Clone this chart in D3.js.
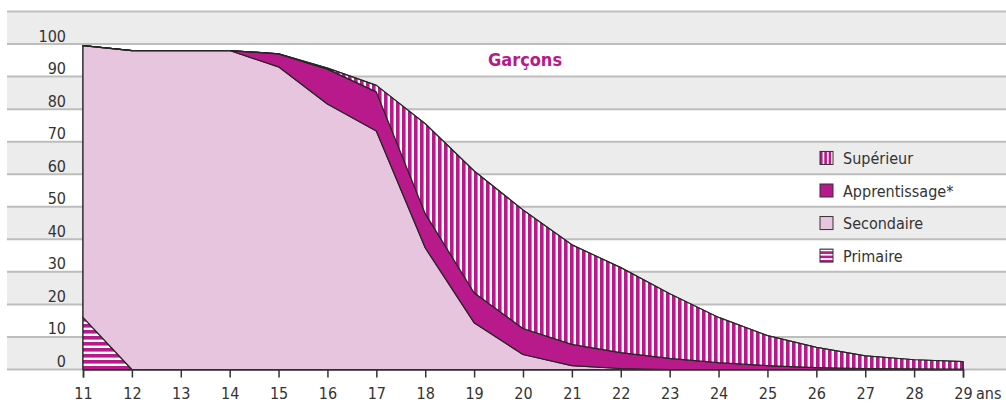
<!DOCTYPE html>
<html>
<head>
    <meta charset="utf-8">
    <title>Garçons</title>
    <script src="https://cdn.jsdelivr.net/npm/d3@7"></script>
    <style>
        body { margin: 0; background: #fff; }
        text { font-family: "Liberation Sans Narrow", "DejaVu Sans Condensed", "Arial Narrow", sans-serif; }
    </style>
</head>
<body>
    <script>
        // données (en %)
        const ages = [11, 12, 13, 14, 15, 16, 17, 18, 19, 20, 21, 22, 23, 24, 25, 26, 27, 28, 29];
        const primaire = [16, 0, 0, 0, 0, 0, 0, 0, 0, 0, 0, 0, 0, 0, 0, 0, 0, 0, 0];
        const secondaire = [83.5, 98, 98, 98, 93, 81.6, 73.3, 37.4, 14.4, 4.6, 1.2, 0.3, 0, 0, 0, 0, 0, 0, 0];
        const apprentissage = [0, 0, 0, 0, 4, 10.7, 12, 10.5, 9.2, 8, 6.5, 4.9, 3.4, 2.1, 1.2, 0.6, 0.3, 0.2, 0.1];
        const superieur = [0, 0, 0, 0, 0, 0.3, 2, 27.6, 37.4, 36.4, 30.6, 26.1, 19.9, 13.9, 9.2, 6.2, 3.9, 2.8, 2.3];
        const yTicks = [0, 10, 20, 30, 40, 50, 60, 70, 80, 90, 100];
        const legendItems = [
            { key: "superieur", label: "Supérieur" },
            { key: "apprentissage", label: "Apprentissage*" },
            { key: "secondaire", label: "Secondaire" },
            { key: "primaire", label: "Primaire" }
        ];

        const width = 1006, height = 404;
        const magenta = "#b8198b", rose = "#e7c5de";

        const rows = ages.map((a, i) => ({
            age: a,
            primaire: primaire[i],
            secondaire: secondaire[i],
            apprentissage: apprentissage[i],
            superieur: superieur[i]
        }));

        const svg = d3.select("body").append("svg")
            .attr("width", width)
            .attr("height", height);

        const x = d3.scaleLinear().domain([11, 29]).range([83, 963]);
        const y = d3.scaleLinear().domain([0, 110]).range([369.5, 11.5]);

        // motifs
        const defs = svg.append("defs");
        function stripes(id, size, band, vertical) {
            const p = defs.append("pattern")
                .attr("id", id)
                .attr("patternUnits", "userSpaceOnUse")
                .attr("width", size).attr("height", size);
            p.append("rect").attr("width", size).attr("height", size).attr("fill", "#fff");
            p.append("rect")
                .attr("width", vertical ? band : size)
                .attr("height", vertical ? size : band)
                .attr("fill", magenta);
        }
        stripes("sup", 6, 3.6, true);
        stripes("prim", 6, 3.6, false);
        stripes("supLeg", 4.3, 2.6, true);
        stripes("primLeg", 4.3, 2.6, false);

        const fills = { primaire: "url(#prim)", secondaire: rose, apprentissage: magenta, superieur: "url(#sup)" };
        const legFills = { primaire: "url(#primLeg)", secondaire: rose, apprentissage: magenta, superieur: "url(#supLeg)" };

        // bandes de fond
        const bands = d3.range(0, 110, 10);
        svg.selectAll("rect.band")
            .data(bands)
            .enter().append("rect")
            .attr("class", "band")
            .attr("x", 7)
            .attr("y", d => y(d + 10))
            .attr("width", width - 7)
            .attr("height", d => y(d) - y(d + 10))
            .attr("fill", d => (d / 10) % 2 === 0 ? "#ececec" : "#fff");

        svg.selectAll("line.grid")
            .data(d3.range(0, 120, 10))
            .enter().append("line")
            .attr("class", "grid")
            .attr("x1", 7).attr("x2", width)
            .attr("y1", d => y(d)).attr("y2", d => y(d))
            .attr("stroke", "#bdbdbd")
            .attr("stroke-width", 2);

        // étiquettes de l'axe vertical
        svg.selectAll("text.ylab")
            .data(yTicks)
            .enter().append("text")
            .attr("class", "ylab")
            .attr("x", 66)
            .attr("y", d => y(d) - 2.5)
            .attr("text-anchor", "end")
            .attr("font-size", 16)
            .attr("fill", "#333")
            .text(d => d);

        // aires empilées
        const keys = ["primaire", "secondaire", "apprentissage", "superieur"];
        const series = d3.stack().keys(keys)(rows);
        const area = d3.area()
            .x(d => x(d.data.age))
            .y0(d => y(d[0]))
            .y1(d => y(d[1]));

        svg.selectAll("path.layer")
            .data(series.slice().reverse())
            .enter().append("path")
            .attr("class", "layer")
            .attr("d", area)
            .attr("fill", d => fills[d.key])
            .attr("stroke", "#262626")
            .attr("stroke-width", 1.2)
            .attr("stroke-linejoin", "round");

        // redessine les aires du bas par-dessus pour garder leurs contours
        svg.append("g").selectAll("path")
            .data(series)
            .enter().append("path")
            .attr("d", area)
            .attr("fill", d => fills[d.key])
            .attr("stroke", "#262626")
            .attr("stroke-width", 1.2)
            .attr("stroke-linejoin", "round");

        // axe horizontal
        const xAxis = d3.axisBottom(x)
            .tickValues(ages)
            .tickSize(8)
            .tickFormat(d3.format("d"));
        const gx = svg.append("g")
            .attr("transform", `translate(0,${y(0)})`)
            .call(xAxis);
        gx.select(".domain").attr("stroke", "#333").attr("stroke-width", 1.5);
        gx.selectAll(".tick line").attr("stroke", "#333").attr("stroke-width", 1.5);
        gx.selectAll(".tick text")
            .attr("y", 29.5)
            .attr("dy", 0)
            .attr("font-size", 16)
            .attr("font-family", null)
            .attr("fill", "#333");

        svg.append("text")
            .attr("x", x(29) + 13)
            .attr("y", 399)
            .attr("font-size", 16)
            .attr("fill", "#333")
            .text("ans");

        // titre
        svg.append("text")
            .attr("x", 525)
            .attr("y", 66)
            .attr("text-anchor", "middle")
            .attr("font-size", 18)
            .attr("font-weight", "bold")
            .attr("fill", magenta)
            .text("Garçons");

        // légende
        const legY = [65, 55, 45, 35];
        const leg = svg.selectAll("g.leg")
            .data(legendItems)
            .enter().append("g")
            .attr("class", "leg")
            .attr("transform", (d, i) => `translate(820,${y(legY[i])})`);
        leg.append("rect")
            .attr("x", 0).attr("y", -6.5)
            .attr("width", 13).attr("height", 13)
            .attr("fill", d => legFills[d.key])
            .attr("stroke", "#333")
            .attr("stroke-width", 1);
        leg.append("text")
            .attr("x", 23)
            .attr("y", 6)
            .attr("font-size", 16)
            .attr("fill", "#333")
            .text(d => d.label);
    </script>
</body>
</html>
